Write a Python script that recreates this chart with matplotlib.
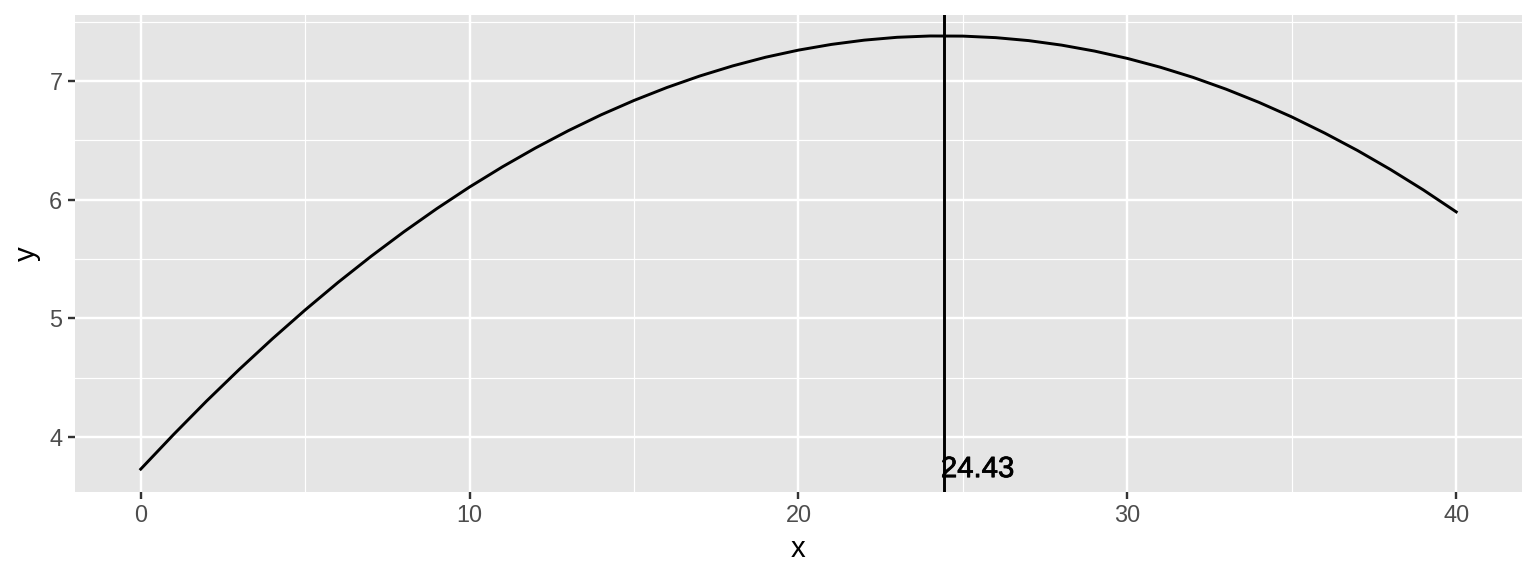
import matplotlib
matplotlib.use("Agg")
import matplotlib.pyplot as plt
import matplotlib.patheffects as pe
from matplotlib.ticker import MultipleLocator

plt.rcParams["font.family"] = ["Liberation Sans", "DejaVu Sans"]

# values, one per x unit
x_vals = list(range(0, 41))
y_vals = [3.730, 4.022, 4.303, 4.571, 4.827, 5.071, 5.303, 5.522, 5.729, 5.924,
          6.107, 6.277, 6.435, 6.581, 6.715, 6.836, 6.945, 7.042, 7.127, 7.200,
          7.260, 7.308, 7.344, 7.368, 7.379, 7.378, 7.365, 7.340, 7.302, 7.252,
          7.190, 7.116, 7.030, 6.931, 6.820, 6.697, 6.561, 6.414, 6.254, 6.082,
          5.897]
peak_x = 24.43
peak_label = "24.43"


def main():
    fig = plt.figure(figsize=(8, 3), dpi=192)
    ax = fig.add_axes([0.0488, 0.1464, 0.9421, 0.8276])
    ax.set_facecolor("#E5E5E5")
    for s in ax.spines.values():
        s.set_visible(False)

    ax.set_xlim(-2, 42)
    ax.set_ylim(3.54, 7.556)
    ax.xaxis.set_major_locator(MultipleLocator(10))
    ax.xaxis.set_minor_locator(MultipleLocator(5))
    ax.yaxis.set_major_locator(MultipleLocator(1))
    ax.yaxis.set_minor_locator(MultipleLocator(0.5))
    ax.grid(which="major", color="white", linewidth=0.9)
    ax.grid(which="minor", color="white", linewidth=0.45)
    ax.set_axisbelow(True)
    ax.tick_params(which="major", length=2.75, width=0.9, color="#333333",
                   labelsize=8.8, labelcolor="#4D4D4D", pad=2)
    ax.tick_params(which="minor", length=0)

    ax.plot(x_vals, y_vals, color="black", linewidth=1.1)
    ax.axvline(peak_x, color="black", linewidth=1.1)
    t = ax.text(peak_x - 0.1, min(y_vals), peak_label, ha="left", va="center",
                fontsize=11, color="black")
    t.set_path_effects([pe.withStroke(linewidth=0.3, foreground="black")])

    ax.set_xlabel("x", fontsize=11, labelpad=3)
    ax.set_ylabel("y", fontsize=11, labelpad=3)

    fig.savefig("out.png", dpi=192)


main()
